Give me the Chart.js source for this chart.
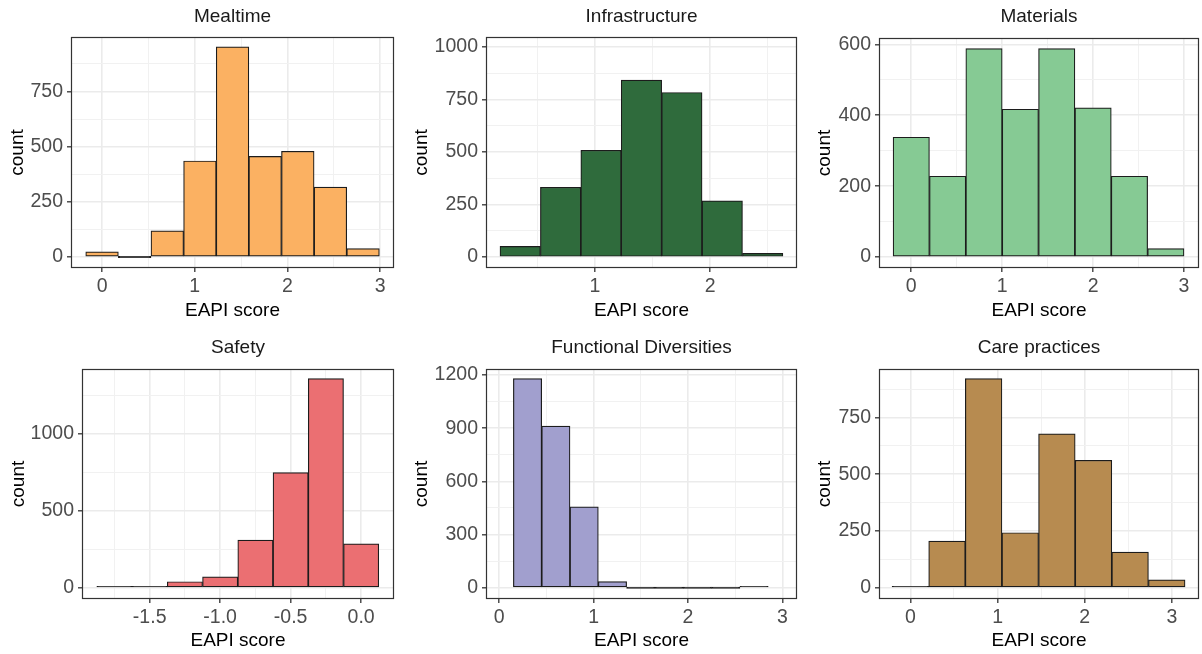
<!DOCTYPE html>
<html>
<head>
<meta charset="utf-8">
<title>EAPI score histograms</title>
<script src="https://cdn.jsdelivr.net/npm/chart.js@4.4.1/dist/chart.umd.min.js"></script>
<style>
  html, body { margin: 0; padding: 0; background: #fff; }
  #grid { position: relative; width: 1202px; height: 654px; }
  .cell { position: absolute; }
</style>
</head>
<body>
<div id="grid"></div>
<script>
// ==================== DATA (bin centres + counts) ====================

const mealtimeScore = [0, 0.352, 0.704, 1.056, 1.408, 1.76, 2.112, 2.464, 2.816];
const mealtimeCount = [23, 0, 118, 435, 952, 456, 479, 317, 38];

const infraScore = [0.35, 0.701, 1.052, 1.403, 1.754, 2.105, 2.456];
const infraCount = [51, 332, 508, 842, 783, 267, 18];

const materialsScore = [0, 0.4, 0.8, 1.2, 1.6, 2.0, 2.4, 2.8];
const materialsCount = [338, 228, 588, 417, 588, 421, 228, 24];

const safetyScore = [-1.75, -1.5, -1.25, -1.0, -0.75, -0.5, -0.25, 0];
const safetyCount = [1, 8, 39, 71, 309, 747, 1358, 285];

const diversityScore = [0.3, 0.6, 0.9, 1.2, 1.5, 1.8, 2.1, 2.4, 2.7];
const diversityCount = [1180, 912, 456, 34, 0, 0, 0, 0, 1];

const careScore = [0, 0.42, 0.84, 1.26, 1.68, 2.1, 2.52, 2.94];
const careCount = [4, 205, 921, 242, 678, 561, 157, 34];

// tick labels (major breaks)
const mealtimeXTicks = ['0', '1', '2', '3'];
const mealtimeYTicks = ['0', '250', '500', '750'];
const infraXTicks = ['1', '2'];
const infraYTicks = ['0', '250', '500', '750', '1000'];
const materialsXTicks = ['0', '1', '2', '3'];
const materialsYTicks = ['0', '200', '400', '600'];
const safetyXTicks = ['-1.5', '-1.0', '-0.5', '0.0'];
const safetyYTicks = ['0', '500', '1000'];
const diversityXTicks = ['0', '1', '2', '3'];
const diversityYTicks = ['0', '300', '600', '900', '1200'];
const careXTicks = ['0', '1', '2', '3'];
const careYTicks = ['0', '250', '500', '750'];

// ==================== PANEL LAYOUT ====================

const FONT = 'Liberation Sans, Arial, sans-serif';
const FS_TEXT = 19;     // titles + axis titles
const FS_TICK = 19.5;   // tick labels
const LH = FS_TEXT * 1.2;
const OUTLINE = '#1c1c1c';

// cell: [left, top, width, height]; box: plot area inside cell [L, T, R, B]
const panels = [
  { title: 'Mealtime', x: mealtimeScore, y: mealtimeCount, xt: mealtimeXTicks, yt: mealtimeYTicks,
    color: '#FBB162', xr: [-0.335, 3.15], yr: [-50, 997],
    cell: [0, 0, 400, 327], box: [71, 37, 394, 268], titleY: 17, countX: 17.8, xTitleY: 311 },
  { title: 'Infrastructure', x: infraScore, y: infraCount, xt: infraXTicks, yt: infraYTicks,
    color: '#2F6B3C', xr: [0.053, 2.754], yr: [-52, 1047],
    cell: [400, 0, 400, 327], box: [86, 37, 397, 268], titleY: 17, countX: 21.3, xTitleY: 311 },
  { title: 'Materials', x: materialsScore, y: materialsCount, xt: materialsXTicks, yt: materialsYTicks,
    color: '#86CA94', xr: [-0.355, 3.165], yr: [-31, 618],
    cell: [800, 0, 402, 327], box: [79, 38, 399, 268], titleY: 17, countX: 24.7, xTitleY: 311 },
  { title: 'Safety', x: safetyScore, y: safetyCount, xt: safetyXTicks, yt: safetyYTicks,
    color: '#EB6F72', xr: [-1.98, 0.233], yr: [-73, 1420],
    cell: [0, 327, 400, 327], box: [82, 42, 394, 272], titleY: 21, countX: 18.7, xTitleY: 313.5 },
  { title: 'Functional Diversities', x: diversityScore, y: diversityCount, xt: diversityXTicks, yt: diversityYTicks,
    color: '#A19FCE', xr: [-0.14, 3.155], yr: [-64, 1234],
    cell: [400, 327, 400, 327], box: [86, 42, 397, 272], titleY: 21, countX: 21.3, xTitleY: 313.5 },
  { title: 'Care practices', x: careScore, y: careCount, xt: careXTicks, yt: careYTicks,
    color: '#B78B50', xr: [-0.36, 3.31], yr: [-50, 963.5],
    cell: [800, 327, 402, 327], box: [79, 42, 399, 272], titleY: 21, countX: 24.7, xTitleY: 313.5 }
];

// major breaks from the label strings, minor breaks halfway between (ggplot style)
function breaks(labels, range) {
  const majors = labels.map(Number);
  const step = majors.length > 1 ? majors[1] - majors[0] : 1;
  const minors = [majors[0] - step / 2];
  majors.forEach(v => minors.push(v + step / 2));
  const inside = v => v >= range[0] && v <= range[1];
  return [
    ...minors.filter(inside).map(v => ({ value: v, minor: true })),
    ...majors.filter(inside).map(v => ({ value: v, minor: false }))
  ].sort((a, b) => a.value - b.value);
}

function labelFor(labels) {
  return (value, i, ticks) => {
    if (ticks[i].minor) return '';
    const k = labels.map(Number).indexOf(value);
    return k >= 0 ? labels[k] : '';
  };
}

const panelBorder = {
  id: 'panelBorder',
  afterDatasetsDraw(chart) {
    const { ctx, chartArea: a } = chart;
    ctx.save();
    ctx.strokeStyle = '#333333';
    ctx.lineWidth = 1.2;
    ctx.strokeRect(a.left + 0.5, a.top + 0.5, a.right - a.left - 1, a.bottom - a.top - 1);
    ctx.restore();
  }
};

function gridStyle() {
  return {
    offset: false,
    color: c => (c.tick && c.tick.minor ? '#F1F1F1' : '#EBEBEB'),
    lineWidth: c => (c.tick && c.tick.minor ? 1 : 1.6),
    drawTicks: true,
    tickLength: 4,
    tickColor: c => (c.tick && c.tick.minor ? 'rgba(0,0,0,0)' : '#333333'),
    tickWidth: 1.3
  };
}

function renderPanel(p) {
  const [cl, ct, cw, ch] = p.cell;
  const [L, T, R, B] = p.box;

  const div = document.createElement('div');
  div.className = 'cell';
  div.style.left = cl + 'px';
  div.style.top = ct + 'px';
  div.style.width = cw + 'px';
  div.style.height = ch + 'px';
  const canvas = document.createElement('canvas');
  div.appendChild(canvas);
  document.getElementById('grid').appendChild(div);

  const xBreaks = breaks(p.xt, p.xr);
  const yBreaks = breaks(p.yt, p.yr);

  // near-empty bins collapse to a flat dark line, like ggplot's outline
  const fillFor = c => {
    const ys = c.chart.scales.y;
    if (!ys || !c.parsed) return p.color;
    const h = Math.abs(ys.getPixelForValue(0) - ys.getPixelForValue(c.parsed.y));
    return h < 2 ? OUTLINE : p.color;
  };

  new Chart(canvas, {
    type: 'bar',
    data: {
      datasets: [{
        data: p.x.map((x, i) => ({ x, y: p.y[i] })),
        backgroundColor: fillFor,
        borderColor: OUTLINE,
        borderWidth: 1.2,
        borderSkipped: false,
        barPercentage: 1,
        categoryPercentage: 1,
        minBarLength: 1.4
      }]
    },
    options: {
      responsive: true,
      maintainAspectRatio: false,
      animation: false,
      events: [],
      layout: { padding: { left: 0, top: 0, bottom: 0, right: cw - R } },
      plugins: {
        legend: { display: false },
        tooltip: { enabled: false },
        title: {
          display: true,
          text: p.title,
          fullSize: false,
          color: '#1a1a1a',
          font: { family: FONT, size: FS_TEXT, weight: 'normal' },
          padding: { top: p.titleY - LH / 2, bottom: T - p.titleY - LH / 2 }
        }
      },
      scales: {
        x: {
          type: 'linear',
          min: p.xr[0],
          max: p.xr[1],
          offset: false,
          grid: gridStyle(),
          border: { display: false },
          ticks: {
            autoSkip: false,
            maxRotation: 0,
            padding: 3,
            color: '#4D4D4D',
            font: { family: FONT, size: FS_TICK },
            callback: labelFor(p.xt)
          },
          title: {
            display: true,
            text: 'EAPI score',
            color: '#000000',
            font: { family: FONT, size: FS_TEXT },
            padding: { top: 0, bottom: ch - p.xTitleY - LH / 2 }
          },
          afterBuildTicks: s => { s.ticks = xBreaks.map(t => ({ ...t })); },
          afterFit: s => { s.height = ch - B; }
        },
        y: {
          type: 'linear',
          min: p.yr[0],
          max: p.yr[1],
          grid: gridStyle(),
          border: { display: false },
          ticks: {
            autoSkip: false,
            padding: 4,
            color: '#4D4D4D',
            font: { family: FONT, size: FS_TICK },
            callback: labelFor(p.yt)
          },
          title: {
            display: true,
            text: 'count',
            color: '#000000',
            font: { family: FONT, size: FS_TEXT },
            padding: { top: p.countX - LH / 2, bottom: 0 }
          },
          afterBuildTicks: s => { s.ticks = yBreaks.map(t => ({ ...t })); },
          afterFit: s => { s.width = L; }
        }
      }
    },
    plugins: [panelBorder]
  });
}

panels.forEach(renderPanel);
</script>
</body>
</html>
